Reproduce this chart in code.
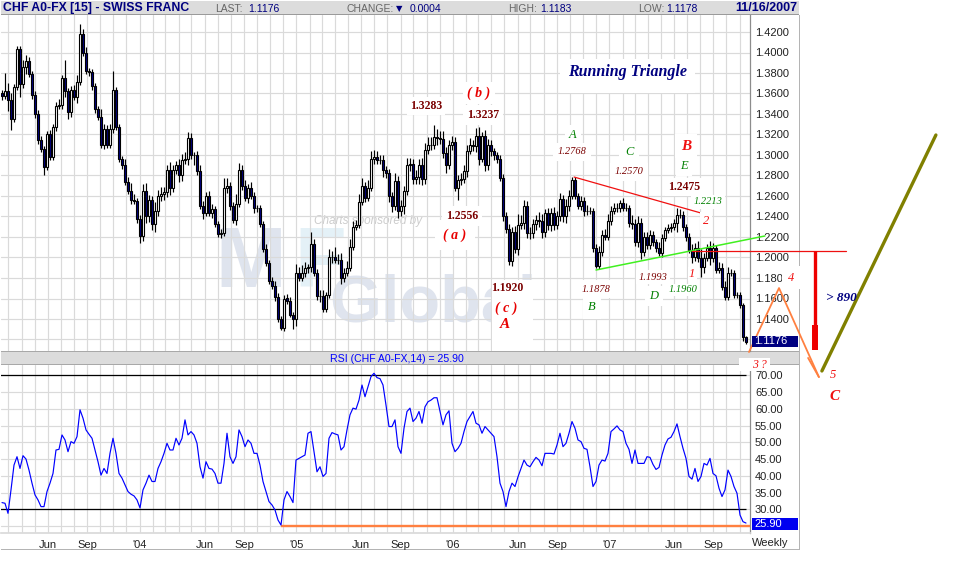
import numpy as np, pandas as pd, seaborn as sns
import matplotlib
matplotlib.use("Agg")
import matplotlib.pyplot as plt
from matplotlib.patches import Rectangle

close = [1.358,1.362,1.354,1.335,1.366,1.403,1.369,1.386,1.392,1.379,
1.359,1.340,1.315,1.306,1.288,1.320,1.298,1.327,1.348,1.349,
1.375,1.362,1.342,1.363,1.357,1.371,1.418,1.400,1.382,1.381,
1.367,1.345,1.337,1.310,1.325,1.310,1.325,1.363,1.327,1.296,
1.290,1.274,1.265,1.256,1.255,1.238,1.221,1.265,1.240,1.256,
1.233,1.245,1.260,1.262,1.264,1.285,1.268,1.285,1.290,1.280,
1.295,1.296,1.317,1.300,1.300,1.284,1.250,1.243,1.260,1.243,
1.247,1.233,1.223,1.224,1.268,1.270,1.250,1.237,1.252,1.285,
1.270,1.258,1.268,1.260,1.248,1.248,1.233,1.208,1.195,1.177,
1.172,1.161,1.140,1.131,1.160,1.158,1.144,1.140,1.185,1.180,
1.185,1.190,1.191,1.213,1.185,1.162,1.162,1.150,1.163,1.200,
1.200,1.198,1.198,1.180,1.185,1.190,1.210,1.230,1.232,1.254,
1.270,1.258,1.268,1.296,1.298,1.295,1.295,1.285,1.282,1.260,
1.250,1.275,1.245,1.250,1.265,1.290,1.291,1.277,1.279,1.290,
1.277,1.305,1.310,1.310,1.318,1.317,1.316,1.302,1.290,1.310,
1.313,1.268,1.276,1.277,1.284,1.304,1.310,1.309,1.319,1.296,
1.319,1.290,1.310,1.304,1.300,1.296,1.278,1.240,1.228,1.197,
1.225,1.208,1.232,1.234,1.250,1.224,1.224,1.233,1.237,1.236,
1.225,1.243,1.232,1.243,1.232,1.240,1.257,1.240,1.250,1.260,
1.276,1.260,1.250,1.255,1.245,1.245,1.245,1.209,1.192,1.205,
1.222,1.220,1.236,1.245,1.248,1.248,1.253,1.248,1.248,1.234,
1.233,1.215,1.234,1.205,1.220,1.212,1.222,1.2155,1.209,1.204,
1.2187,1.2268,1.2285,1.2301,1.2333,1.2415,1.2415,1.2301,1.2203,1.2073,
1.2008,1.2089,1.1992,1.191,1.1992,1.2089,1.1992,1.2089,1.1878,1.1894,
1.1715,1.1618,1.1846,1.1846,1.1634,1.1634,1.1537,1.1228,1.1176]

upper_wick = [3,18,8,6,3,3,3,7,6,4, 3,3,4,4,3,3,4,3,4,6, 3,18,3,4,5,7,10,5,5,3,
3,3,3,8,5,4,5,19,3,3, 3,6,5,8,6,3,3,7,8,5, 4,9,6,7,5,5,8,5,4,6,
6,7,5,4,3,4,6,5,4,5, 5,3,3,4,10,8,4,4,10,7, 5,6,4,6,4,3,3,3,5,3,
4,5,4,3,3,4,3,3,9,6, 8,6,3,12,5,4,6,6,3,8, 6,10,5,6,5,7,8,6,5,8,
8,4,8,8,7,6,5,5,4,4, 4,7,5,6,5,7,6,5,6,6, 7,7,8,8,11,7,6,7,6,5,
6,5,4,5,6,6,7,5,7,8, 3,5,6,5,3,3,4,3,4,5, 5,6,10,7,6,5,6,5,4,7,
6,4,5,5,6,5,6,4,7,6, 3,3,3,5,4,6,4,3,4,6, 5,6,6,5,5,5,3,5,5,3,
7,5,6,5,5,5,5,4,3,6, 4,3,4,4,4,7,6,4,3,4, 6,5,7,9,5,4,7,5,3,6,
5,6,6,4,3,3,3,2,1]

lower_wick = [4,3,11,11,3,3,12,4,7,3, 4,4,4,3,8,3,3,3,4,3, 4,5,7,5,3,6,3,3,3,4,
4,4,3,3,4,3,3,4,3,3, 4,3,3,4,3,4,7,5,6,5, 6,8,5,5,6,5,7,4,4,6,
5,4,6,4,10,4,3,5,3,3, 4,3,3,4,3,5,4,3,5,3, 4,3,5,3,5,4,3,3,3,3,
3,3,3,2,3,3,2,10,7,3, 3,4,5,5,3,3,5,3,3,3, 5,3,4,6,4,3,3,3,3,3,
3,4,3,3,5,4,4,6,4,6, 6,4,6,5,8,4,6,5,5,7, 6,5,4,5,4,7,5,5,8,4,
5,3,12,5,4,5,3,5,6,6, 3,6,5,5,5,4,3,4,4,4, 5,4,6,4,6,5,6,5,6,6,
6,5,5,6,5,4,4,5,6,5, 3,3,3,4,5,4,3,4,2,3, 4,3,3,4,3,4,4,3,3,4,
5,4,5,6,4,4,4,4,4,3, 4,3,3,4,3,8,3,4,4,3, 6,4,4,10,6,3,7,4,3,3,
3,3,3,3,3,3,3,4,2]

rsi = [32,31.8,28.8,35.8,43.2,45.7,42.2,46,45,41.7,
37.8,34.3,32.8,30.8,30.8,35.3,37.8,40.7,47.7,47.9,
52.2,50.7,47.2,50.2,49.7,51.7,59.7,57.2,53.7,52.4,
51.2,47.7,44.2,40.2,42.2,40.7,46.7,51.2,46.7,40.7,
39.3,37.3,35.3,34.5,34,32.8,30.4,35.8,37.8,40.2,
38.3,38.3,42.2,44.2,46.7,49.7,47.7,47.7,51.2,49.2,
51.2,56.7,52.2,53.2,52.2,49.7,42.7,39.3,44.2,42.2,
42,40.7,37.8,37.8,43.7,52.7,45.7,43.7,45.7,53.7,
51.7,48.7,50.7,49.7,46.7,46.7,43.2,38.3,35.3,32.3,
31.3,29.8,26.8,25.3,32.8,35.3,33.8,32,44.7,45.2,
45.7,46.2,52.7,53.2,47.2,41.2,42.7,39.8,40.7,51.2,
52.9,52.5,52.2,47.7,48.7,53.7,58.2,60.2,59.9,62.6,
67.1,63.6,66.6,69.6,70.6,69.3,69,67.1,61.1,54.7,
54.7,56.7,48.7,46.7,54.2,59.2,60.2,56.2,57.2,59.2,
55.7,60.6,62.1,62.6,63.3,63.3,59.2,55.2,58.2,59.4,
49.7,47.2,48.2,49.7,53.2,56.2,57.7,59.2,55.7,55.2,
52.7,54.7,53.7,52.7,51.7,45.7,37.8,35.3,30.8,35.3,
37.8,36.8,39.7,42.2,44.7,43.2,42.7,44.2,45.5,44.7,
43,46.7,46.7,46.7,46.5,49.2,52.7,48.7,49.7,52.7,
56.2,54.2,50.7,50.2,48.2,47.9,42.7,36.8,38.3,43.2,
44.7,44.4,46.7,53.2,54,54.9,53.7,53.2,49.7,47.9,
43.7,47.7,43.7,43.7,43.7,45.7,45.5,43.4,41.9,42.5,
46.2,49.2,51,51.5,53.2,55.5,51.7,48.2,45.2,39.8,
39,42.2,38.3,39.8,43.7,43.2,45.2,40.7,40,36.3,
33.8,35.8,41.7,39.8,36.8,34.8,28.3,26.3,25.9]

price_ticks = [1.12,1.14,1.16,1.18,1.20,1.22,1.24,1.26,1.28,1.30,1.32,1.34,1.36,1.38,1.40,1.42]
rsi_ticks = [25,30,35,40,45,50,55,60,65,70]

W, H = 955, 575
NAVY = "#000080"
GRID = "#dadada"
SANS = "Liberation Sans"
SERIF = "Liberation Serif"
DARK = "#7a0000"
GREEN = "#008000"

sns.set_theme(style="white")
plt.rcParams["font.family"] = [SANS, "DejaVu Sans"]

start = pd.Timestamp("2003-02-14")
df = pd.DataFrame({"week": np.arange(len(close)), "close": close, "rsi": rsi})
df["open"] = df["close"].shift(1).fillna(df["close"] + 0.002)
df["top"] = df[["open", "close"]].max(axis=1)
df["bot"] = df[["open", "close"]].min(axis=1)
df["high"] = df["top"] + np.array(upper_wick) / 1000
df["low"] = df["bot"] - np.array(lower_wick) / 1000

fig = plt.figure(figsize=(W / 100, H / 100), dpi=100, facecolor="white")

def box(x0, y0, x1, y1):
    return [x0 / W, 1 - y1 / H, (x1 - x0) / W, (y1 - y0) / H]

def rect(x0, y0, x1, y1, color, z=0.5):
    b = box(x0, y0, x1, y1)
    fig.add_artist(Rectangle((b[0], b[1]), b[2], b[3], transform=fig.transFigure,
                             fc=color, ec="none", zorder=z))

def label(x, y, s, color="black", size=8, family=SERIF, bold=False, italic=False,
          ha="center", patch=None, z=4):
    kw = {}
    if patch is not None:
        kw["bbox"] = dict(fc="white", ec="none", pad=patch)
    fig.text(x / W, 1 - y / H, s, color=color, fontsize=size, family=family,
             weight="bold" if bold else "normal", style="italic" if italic else "normal",
             ha=ha, va="center", zorder=z, **kw)

rect(1, 1, 799, 14.5, "#dcdcdc")
rect(1, 351, 799, 365, "#dcdcdc")
rect(1, 14, 799, 15, "#9a9a9a")
rect(1, 351, 799, 352, "#a8a8a8")
rect(1, 364, 799, 365, "#a8a8a8")
rect(798.5, 15, 799.5, 550, "#b4b4b4")
rect(1, 549, 799, 550, "#b4b4b4")

ax = fig.add_axes(box(1, 15, 749.5, 351), zorder=2)
ax2 = fig.add_axes(box(1, 365, 749.5, 533), zorder=1)

months = pd.date_range("2003-03-01", "2007-11-01", freq="MS")
month_pos = [(d - start).days / 7 for d in months]
month_lab = []
for d in months:
    if d.month == 6:
        month_lab.append("Jun")
    elif d.month == 9:
        month_lab.append("Sep")
    elif d.month == 1:
        month_lab.append("'" + str(d.year)[2:])
    else:
        month_lab.append("")

for a in (ax, ax2):
    a.set_xlim(-1 / 3, 747.5 / 3)
    a.set_facecolor("none")
    a.set_xticks(month_pos)
    a.grid(True, color=GRID, lw=0.85, zorder=0)
    a.set_axisbelow(True)
    a.yaxis.tick_right()
    for s in ("top", "left", "bottom"):
        a.spines[s].set_visible(False)
    a.spines["right"].set_color("#8c8c8c")
    a.spines["right"].set_linewidth(0.9)
    a.tick_params(length=0, pad=4, labelsize=8, labelcolor="#222222")

# price panel
ax.set_ylim(1.42 - 319 / 1025, 1.42 + 17 / 1025)
ax.set_yticks(price_ticks)
ax.set_yticklabels(["" if t == 1.12 else f"{t:.4f}" for t in price_ticks])
ax.tick_params(labelbottom=False)

# watermark
label(215, 265, "M", "#dfe4ee", 61, SANS, True, ha="left", z=0.6)
label(294, 265, "F", "#e4f1f7", 61, SANS, True, ha="left", z=0.6)
label(329, 304, "Global", "#dfe4ee", 48, SANS, True, ha="left", z=0.6)
label(368, 221, "Charts sponsored by", "#cccccc", 8.5, SANS, italic=True, z=0.6)

colors = [NAVY if c < o else "white" for c, o in zip(df["close"], df["open"])]
ax.vlines(df["week"], df["low"], df["high"], color="black", lw=0.85, zorder=3)
ax.bar(df["week"], df["top"] - df["bot"], bottom=df["bot"], width=0.8,
       color=colors, edgecolor="black", linewidth=0.8, zorder=4)

# rsi panel
ax2.set_ylim(70 - (533 - 375.3) / 3.35, 70 + (375.3 - 365) / 3.35)
ax2.set_yticks(rsi_ticks)
ax2.set_yticklabels(["" if t == 25 else f"{t:.2f}" for t in rsi_ticks])
ax2.set_xticklabels(month_lab)
ax2.tick_params(axis="x", pad=5)
ax2.spines["bottom"].set_visible(True)
ax2.spines["bottom"].set_color(GRID)
ax2.hlines([70, 30], -1, 248, color="black", lw=0.9, zorder=3)
ax2.hlines(25.0, 93, 252, color="#ff8040", lw=1.7, zorder=3)
sns.lineplot(data=df, x="week", y="rsi", ax=ax2, color="#0000ff", lw=0.85, zorder=4)
ax2.set_xlabel("")
ax2.set_ylabel("")

# author's overlay, in (week, price)
trend_weeks = [190.7, 233]
trend_prices = [1.2785, 1.2434]
ax.plot(trend_weeks, trend_prices, color="#f01010", lw=0.9, clip_on=False, zorder=6)
support_weeks = [198, 254.3]
support_prices = [1.1878, 1.221]
ax.plot(support_weeks, support_prices, color="#40f020", lw=1.1, clip_on=False, zorder=6)
ax.plot([230, 281.3], [1.2064, 1.2064], color="#ee1010", lw=0.9, clip_on=False, zorder=6)
ax.plot([271, 271], [1.2064, 1.1342], color="#ee0000", lw=2.4, clip_on=False, zorder=6, solid_capstyle="butt")
ax.plot([271, 271], [1.1342, 1.1098], color="#ee0000", lw=4.3, clip_on=False, zorder=6, solid_capstyle="butt")
wave_weeks = [249, 259, 272.3]
wave_prices = [1.1078, 1.1702, 1.0834]
ax.plot(wave_weeks, wave_prices, color="#ff8040", lw=1.3, clip_on=False, zorder=6)
ax.plot([268.7, 272.3], [1.102, 1.0834], color="#ff8040", lw=1.3, clip_on=False, zorder=6)
ax.plot([273.3, 311.3], [1.0893, 1.3195], color="#808000", lw=2.4, clip_on=False, zorder=6)

# value flags
rect(752, 336, 798, 347, NAVY, 3)
label(754, 341.5, "1.1176", "white", 8, SANS, ha="left")
rect(752, 518, 798, 530, "#0000f0", 3)
label(754, 524, "25.90", "white", 8, SANS, ha="left")

# header
label(3, 8, "CHF A0-FX [15] - SWISS FRANC", NAVY, 8.8, SANS, True, ha="left")
for x, s, c in [(215, "LAST:", "#666666"), (248, "1.1176", NAVY), (346, "CHANGE:", "#666666"),
                (410, "0.0004", NAVY), (508, "HIGH:", "#666666"), (540, "1.1183", NAVY),
                (638, "LOW:", "#666666"), (666, "1.1178", NAVY)]:
    label(x, 8.5, s, c, 7.5, SANS, ha="left")
label(396, 8.5, "\u25bc", NAVY, 6, "DejaVu Sans", ha="left")
label(735, 8, "11/16/2007", NAVY, 9, SANS, True, ha="left")
label(397, 358.5, "RSI (CHF A0-FX,14) = 25.90", "#0000ff", 7.6, SANS)
label(770, 543, "Weekly", "#222222", 8, SANS)

# white patches pasted behind the author's notes
rect(492, 280, 533, 351, "white", 3)
rect(560, 59, 695, 93, "white", 3)
rect(739, 358, 770, 370.5, "white", 3)

# author's notes
label(628, 72, "Running Triangle", NAVY, 11.5, SERIF, True, True)
label(479, 93, "( b )", "#e80000", 10, SERIF, True, True, patch=3)
label(426, 106, "1.3283", DARK, 8.5, SERIF, True, patch=2)
label(483, 115, "1.3237", DARK, 8.5, SERIF, True, patch=3)
label(573, 135, "A", GREEN, 9, SERIF, italic=True, patch=3)
label(572, 152, "1.2768", DARK, 7.5, SERIF, italic=True, patch=3)
label(629, 152, "C", GREEN, 9, SERIF, italic=True, patch=4)
label(629, 172, "1.2570", DARK, 7.5, SERIF, italic=True, patch=3)
label(686, 146, "B", "#f01010", 11, SERIF, True, True, patch=4)
label(684, 166, "E", GREEN, 9, SERIF, italic=True, patch=3)
label(684, 187, "1.2475", DARK, 8.5, SERIF, True, patch=2)
label(708, 202, "1.2213", GREEN, 7.5, SERIF, italic=True, patch=2)
label(706, 221, "2", "#f01010", 9, SERIF, italic=True, patch=2)
label(462, 216, "1.2556", DARK, 8.5, SERIF, True, patch=3)
label(455, 235, "( a )", "#e80000", 10, SERIF, True, True, patch=6)
label(507, 288, "1.1920", DARK, 8.5, SERIF, True)
label(506, 308, "( c )", "#e80000", 10, SERIF, True, True)
label(505, 325, "A", "#e80000", 11, SERIF, True, True)
label(596, 289, "1.1878", DARK, 7.5, SERIF, italic=True, patch=3)
label(592, 307, "B", GREEN, 9, SERIF, italic=True, patch=4)
label(653, 277, "1.1993", DARK, 7.5, SERIF, italic=True, patch=2)
label(654, 296, "D", GREEN, 9, SERIF, italic=True, patch=3)
label(692, 274, "1", "#f01010", 9, SERIF, italic=True, patch=1)
label(683, 290, "1.1960", GREEN, 7.5, SERIF, italic=True, patch=1)
label(791, 278, "4", "#f01010", 9, SERIF, italic=True, patch=4)
label(759, 365, "3 ?", "#f01010", 8.5, SERIF, italic=True)
label(833, 375, "5", "#f01010", 9, SERIF, italic=True)
label(835, 397, "C", "#f01010", 11, SERIF, True, True)
label(841, 298, "> 890", NAVY, 9.5, SERIF, True, True)

fig.savefig("out.png", dpi=100)
